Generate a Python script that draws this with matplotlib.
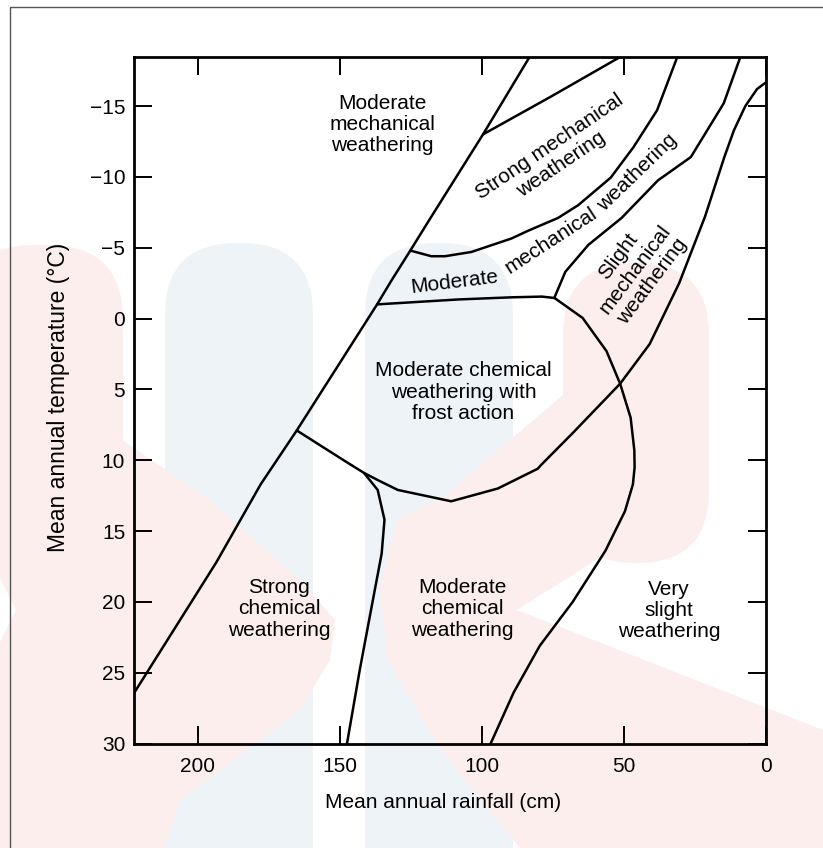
import matplotlib.pyplot as plt
from matplotlib.patches import FancyBboxPatch, Polygon, Rectangle

plt.rcParams['font.family'] = ['Liberation Sans', 'DejaVu Sans']

# boundaries: rainfall (cm), temperature (deg C)
diag_rain = [222.6, 193.4, 177.8, 165.1, 136.8, 131.7, 125.1, 118.3, 99.5, 83.0]
diag_temp = [26.5, 17.2, 11.7, 7.9, -1.0, -2.7, -4.8, -7.0, -13.0, -18.5]

upper_rain = [99.5, 75.3, 50.9]
upper_temp = [-13.0, -15.7, -18.5]

strong_rain = [125.1, 117.7, 112.9, 103.6, 89.5, 83.6, 73.1, 66.0, 54.5, 46.5, 38.2, 31.0]
strong_temp = [-4.8, -4.4, -4.4, -4.7, -5.65, -6.2, -7.1, -8.0, -9.95, -12.1, -14.7, -18.5]

modmech_rain = [8.8, 14.7, 26.3, 37.9, 50.7, 62.4, 70.5, 74.3]
modmech_temp = [-18.5, -15.2, -11.4, -9.75, -7.1, -5.2, -3.3, -1.5]

frost_top_rain = [136.8, 108.0, 89.3, 78.7, 74.3]
frost_top_temp = [-1.0, -1.35, -1.5, -1.55, -1.45]

dry_rain = [74.3, 64.4, 56.0, 51.2, 47.5, 46.2, 46.1, 46.7, 49.5, 56.4, 67.9, 79.5, 88.7, 96.8]
dry_temp = [-1.45, -0.04, 2.3, 4.6, 7.0, 9.3, 10.5, 11.7, 13.6, 16.4, 20.0, 23.1, 26.4, 30.0]

frost_low_rain = [0.0, 3.0, 7.1, 11.1, 14.5, 21.3, 30.4, 40.8, 51.2, 67.5, 79.1, 80.2, 94.3,
                  110.7, 129.5, 136.6, 141.4, 148.6, 165.1]
frost_low_temp = [-16.65, -16.2, -15.0, -13.3, -11.4, -7.2, -2.5, 1.8, 4.6, 8.0, 10.35, 10.6, 12.0,
                  12.9, 12.1, 11.4, 10.9, 10.0, 7.9]

chem_rain = [141.4, 136.6, 134.2, 135.2, 138.5, 142.9, 147.4]
chem_temp = [10.9, 12.1, 14.2, 16.6, 20.1, 24.8, 30.0]

# region labels
labels = ["Moderate\nmechanical\nweathering", "Strong mechanical\nweathering",
          "Moderate", "mechanical", "weathering",
          "Slight\nmechanical\nweathering",
          "Moderate chemical\nweathering with\nfrost action",
          "Strong\nchemical\nweathering", "Moderate\nchemical\nweathering",
          "Very\nslight\nweathering"]
label_rain = [134.8, 74.0, 109.5, 75.4, 45.0, 45.9, 106.4, 171.3, 106.7, 34.0]
label_temp = [-13.7, -11.5, -2.6, -5.5, -10.3, -3.5, 5.2, 20.5, 20.5, 20.6]
label_rot = [0, 34, 7, 33, 44, 53, 0, 0, 0, 0]

yticks = [-15, -10, -5, 0, 5, 10, 15, 20, 25, 30]
ytick_labels = ["\u221215", "\u221210", "\u22125", "0", "5", "10", "15", "20", "25", "30"]
xticks = [200, 150, 100, 50, 0]

fig = plt.figure(figsize=(8.23, 8.48), dpi=100)

# faint watermark behind the chart (pixel coordinates of the page)
bg = fig.add_axes([0, 0, 1, 1], zorder=-1)
bg.set_xlim(0, 823)
bg.set_ylim(848, 0)
bg.axis('off')
pink = "#fdeeee"
blue = "#eef3f8"
for x0 in [165, 365]:
    bg.add_patch(FancyBboxPatch((x0, 243), 148, 700, boxstyle="round,pad=0,rounding_size=72",
                                fc=blue, ec="none"))
bg.add_patch(FancyBboxPatch((-40, 245), 163, 700, boxstyle="round,pad=0,rounding_size=75",
                            fc=pink, ec="none"))
bg.add_patch(FancyBboxPatch((563, 263), 146, 300, boxstyle="round,pad=0,rounding_size=72",
                            fc=pink, ec="none"))
bg.add_patch(Polygon([(122, 440), (210, 500), (300, 580), (335, 620), (330, 660), (300, 710),
                      (180, 800), (165, 848), (100, 848), (100, 600)], fc=pink, ec="none"))
bg.add_patch(Polygon([(563, 395), (443, 497), (397, 520), (380, 587), (387, 657), (413, 703),
                      (440, 748), (520, 848), (823, 848), (823, 730), (517, 610), (620, 545),
                      (680, 515), (705, 470), (709, 400)], fc=pink, ec="none"))
bg.add_patch(Polygon([(0, 578), (16, 610), (0, 642)], fc="white", ec="none"))
bg.add_patch(Rectangle((10.5, 7), 900, 900, fill=False, ec="#555555", lw=1))

ax = fig.add_axes([133.5 / 823, 1 - 743.5 / 848, 632 / 823, 687 / 848])
ax.set_facecolor("none")

for xs, ys in [(diag_rain, diag_temp), (upper_rain, upper_temp), (strong_rain, strong_temp),
               (modmech_rain, modmech_temp), (frost_top_rain, frost_top_temp),
               (dry_rain, dry_temp), (frost_low_rain, frost_low_temp), (chem_rain, chem_temp)]:
    ax.plot(xs, ys, color="black", lw=1.8, solid_capstyle="round", solid_joinstyle="round")

for txt, x, y, r in zip(labels, label_rain, label_temp, label_rot):
    ax.text(x, y, txt, ha="center", va="center", rotation=r, rotation_mode="anchor",
            fontsize=15, linespacing=1.15)

ax.set_xlim(222.6, 0)
ax.set_ylim(30, -18.5)
ax.set_yticks(yticks)
ax.set_yticklabels(ytick_labels)
ax.set_xticks(xticks)
ax.tick_params(direction="in", length=13, width=1.4, top=True, right=True, labelsize=15)
ax.tick_params(axis="y", pad=6)
ax.tick_params(axis="x", pad=10)
for sp in ax.spines.values():
    sp.set_linewidth(2)

ax.set_xlabel("Mean annual rainfall (cm)", fontsize=15)
ax.xaxis.set_label_coords(0.49, -0.072)
ax.set_ylabel("Mean annual temperature (\u00b0C)", fontsize=16.5)
ax.yaxis.set_label_coords(-0.1, 0.504)

fig.savefig("out.png", dpi=100)
